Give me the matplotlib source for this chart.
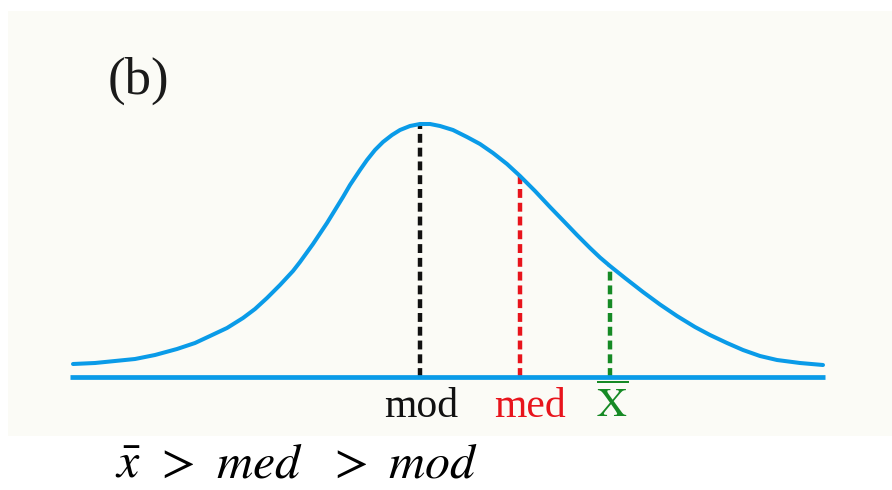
import matplotlib.pyplot as plt
from matplotlib.patches import Rectangle

# curve: x position and height above the baseline
curve_x = [73, 95, 115, 135, 155, 177, 195, 210, 227, 243, 255, 267, 280, 293,
           300, 313, 327, 343, 350, 360, 367, 375, 383, 392, 400, 410, 420,
           430, 440, 453, 467, 480, 493, 507, 520, 535, 550, 565, 577, 590,
           600, 610, 625, 643, 660, 677, 695, 710, 727, 743, 760, 777, 800, 823]
curve_h = [13, 14, 16, 18, 22, 28, 34, 41, 49, 59, 68, 79, 92, 106,
           115, 133, 154, 180, 192, 207, 217, 227, 235, 242, 247, 251, 253,
           253, 251, 247, 240, 233, 224, 213, 201, 186, 170, 154.5, 142, 129,
           119.5, 111, 99, 85, 72.5, 61, 50, 42, 34, 27, 21, 17, 14, 12]

# mode, median, mean markers
mark_names = ['mod', 'med', r'$\overline{\mathrm{X}}$']
mark_x = [420, 520, 610]
mark_h = [253, 201, 111]
mark_colors = ['#111111', '#e8141c', '#168a25']
label_x = [421, 530, 612]

# bottom relation, one piece each
rel_parts = [r'$\bar{x}$', r'$>$', r'$med$', r'$>$', r'$mod$']
rel_x = [128, 174, 259, 347, 433]

blue = '#0a9be8'

plt.rcParams['mathtext.fontset'] = 'stix'

fig = plt.figure(figsize=(8.92, 4.9), dpi=100)
ax = fig.add_axes([0, 0, 1, 1])
ax.set_xlim(0, 892)
ax.set_ylim(-113, 377)
ax.axis('off')

# off-white panel behind the drawing
ax.add_patch(Rectangle((8, -59), 884, 425, facecolor='#fbfbf6', edgecolor='none', zorder=0))

# baseline and curve
ax.plot([70, 825], [0, 0], color=blue, lw=3.4, solid_capstyle='butt', zorder=3)
ax.plot(curve_x, curve_h, color=blue, lw=2.9, solid_capstyle='round',
        solid_joinstyle='round', zorder=3)

# dashed verticals from baseline up to the curve
for x, h, c in zip(mark_x, mark_h, mark_colors):
    ax.plot([x, x], [0, h], color=c, lw=3.2, linestyle=(0, (2.0, 1.1)),
            dash_capstyle='butt', zorder=2)

for name, x, c in zip(mark_names, label_x, mark_colors):
    ax.text(x, -40, name, color=c, fontsize=30, family='Liberation Serif',
            ha='center', va='baseline', zorder=4)

ax.text(108, 283, '(b)', fontsize=38, family='Liberation Serif', color='#1a1a1a',
        va='baseline', ha='left')

for s, x in zip(rel_parts, rel_x):
    ax.text(x, -100, s, fontsize=36, color='black', va='baseline', ha='center')

plt.savefig('out.png', dpi=100, facecolor='white')
